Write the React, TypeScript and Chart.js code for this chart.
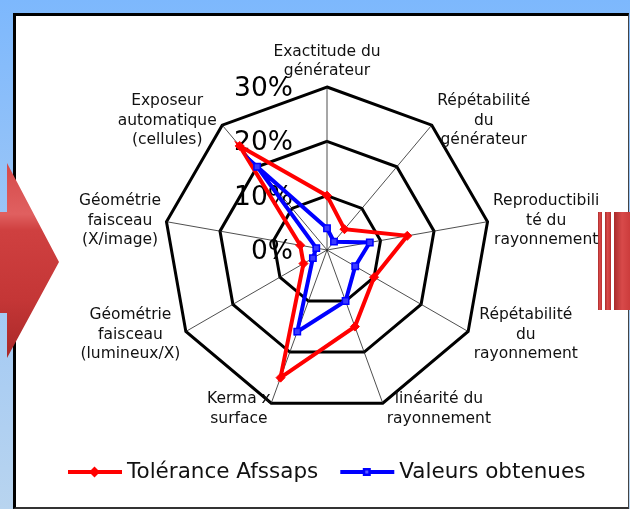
import React, { useEffect, useRef } from "react";
import { Chart, registerables } from "chart.js";

Chart.register(...registerables);

const axisLabels: string[][] = [
  ["Exactitude du", "générateur"],
  ["Répétabilité", "du", "générateur"],
  ["Reproductibili", "té du", "rayonnement"],
  ["Répétabilité", "du", "rayonnement"],
  ["linéarité du", "rayonnement"],
  ["Kerma x", "surface"],
  ["Géométrie", "faisceau", "(lumineux/X)"],
  ["Géométrie", "faisceau", "(X/image)"],
  ["Exposeur", "automatique", "(cellules)"],
];
const toleranceAfssaps = [10, 5, 15, 10, 15, 25, 5, 5, 25];
const valeursObtenues = [4, 2, 8, 6, 10, 16, 3, 2, 20];
const tickValues = [0, 10, 20, 30];
const seriesNames = ["Tolérance Afssaps", "Valeurs obtenues"];
const seriesColors = ["#ff0000", "#0000ff"];

const FONT = '"DejaVu Sans", Verdana, sans-serif';

const excelPlugin = {
  id: "excelLook",
  beforeDatasetsDraw(chart: any) {
    const scale = chart.scales.r;
    const ctx = chart.ctx;
    ctx.save();
    ctx.font = `26.5px ${FONT}`;
    ctx.fillStyle = "#000";
    ctx.textAlign = "right";
    ctx.textBaseline = "middle";
    for (const v of tickValues) {
      const d = scale.getDistanceFromCenterForValue(v);
      ctx.fillText(`${v}%`, scale.xCenter - 34, scale.yCenter - d + 2);
    }
    ctx.restore();
  },
  afterDraw(chart: any) {
    const scale = chart.scales.r;
    const ctx = chart.ctx;
    ctx.save();
    // axis labels
    ctx.font = `15.5px ${FONT}`;
    ctx.fillStyle = "#111";
    ctx.textAlign = "center";
    ctx.textBaseline = "middle";
    const lineH = 19.5;
    axisLabels.forEach((lines, i) => {
      const th = scale.getIndexAngle(i);
      const s = Math.sin(th);
      const c = Math.cos(th);
      const pos = scale.getPointPosition(i, scale.drawingArea);
      const blockW = Math.max(...lines.map((l) => ctx.measureText(l).width));
      const blockH = lines.length * lineH;
      let cx: number;
      let top: number;
      if (Math.abs(s) < 0.01) {
        cx = pos.x;
        top = pos.y - 6.25 - blockH;
      } else {
        const cy = pos.y - 6 * c;
        top = cy - blockH / 2;
        let off = 5.5;
        if (Math.abs(c) > 0.9) off = s > 0 ? 4 : 0.5;
        cx = s > 0 ? pos.x + off + blockW / 2 : pos.x - off - blockW / 2;
      }
      lines.forEach((l, j) => {
        ctx.fillText(l, cx, top + lineH * (j + 0.5));
      });
    });

    // legend
    const ly = 472;
    let x = 68;
    ctx.font = `21.5px ${FONT}`;
    ctx.textAlign = "left";
    chart.data.datasets.forEach((ds: any) => {
      ctx.strokeStyle = ds.borderColor;
      ctx.lineWidth = 4;
      ctx.beginPath();
      ctx.moveTo(x, ly);
      ctx.lineTo(x + 54, ly);
      ctx.stroke();
      const mx = x + 26.5;
      ctx.fillStyle = ds.borderColor;
      ctx.beginPath();
      if (ds.pointStyle === "rectRot") {
        ctx.moveTo(mx, ly - 5.5);
        ctx.lineTo(mx + 5.5, ly);
        ctx.lineTo(mx, ly + 5.5);
        ctx.lineTo(mx - 5.5, ly);
        ctx.closePath();
        ctx.fill();
      } else {
        ctx.rect(mx - 4, ly - 4, 8, 8);
        ctx.fill();
        ctx.fillStyle = "#5a5aff";
        ctx.fillRect(mx - 1.5, ly - 1.5, 3, 3);
      }
      ctx.fillStyle = "#111";
      ctx.fillText(ds.label, x + 59, ly);
      x = x + 59 + ctx.measureText(ds.label).width + 22;
    });
    ctx.restore();
  },
};

export default function App() {
  const ref = useRef<HTMLCanvasElement | null>(null);

  useEffect(() => {
    if (!ref.current) return;
    const chart = new Chart(ref.current, {
      type: "radar",
      data: {
        labels: axisLabels.map((l) => l.join(" ")),
        datasets: [
          {
            label: seriesNames[0],
            data: toleranceAfssaps,
            borderColor: seriesColors[0],
            backgroundColor: seriesColors[0],
            borderWidth: 4,
            fill: false,
            pointStyle: "rectRot",
            pointRadius: 4.5,
            pointBorderWidth: 1,
            pointBackgroundColor: seriesColors[0],
            pointBorderColor: seriesColors[0],
            order: 1,
          },
          {
            label: seriesNames[1],
            data: valeursObtenues,
            borderColor: seriesColors[1],
            backgroundColor: seriesColors[1],
            borderWidth: 4,
            fill: false,
            pointStyle: "rect",
            pointRadius: 4.5,
            pointBorderWidth: 1.5,
            pointBackgroundColor: "#3a3aff",
            pointBorderColor: seriesColors[1],
            order: 0,
          },
        ],
      },
      options: {
        responsive: false,
        animation: false,
        events: [],
        layout: { padding: { left: 164, top: 87, right: 140, bottom: 96 } },
        plugins: {
          legend: { display: false },
          tooltip: { enabled: false },
          title: { display: false },
        },
        scales: {
          r: {
            min: 0,
            max: 30,
            ticks: { display: false, stepSize: 10 },
            pointLabels: { display: false },
            grid: { color: "#000", lineWidth: 3, circular: false },
            angleLines: { color: "#222", lineWidth: 0.8 },
          },
        },
      },
      plugins: [excelPlugin],
    });
    return () => chart.destroy();
  }, []);

  return (
    <div
      style={{
        position: "fixed",
        left: 0,
        top: 0,
        width: 630,
        height: 509,
        overflow: "hidden",
        background: "linear-gradient(to bottom, #7db8fd 0%, #9cc6f6 45%, #b8d4ef 100%)",
      }}
    >
      <div
        style={{
          position: "absolute",
          left: 13,
          top: 13,
          width: 616,
          height: 496,
          boxSizing: "border-box",
          background: "#fff",
          borderTop: "3px solid #000",
          borderLeft: "3px solid #000",
          borderRight: "1.5px solid #444",
          borderBottom: "2px solid #333",
        }}
      />
      <canvas
        ref={ref}
        width={630}
        height={509}
        style={{ position: "absolute", left: 0, top: 0, width: 630, height: 509 }}
      />
      <div
        style={{
          position: "absolute",
          left: 0,
          top: 160,
          width: 62,
          height: 200,
          clipPath: "polygon(0px 52px, 7px 52px, 7px 3px, 59px 102px, 7px 198px, 7px 153px, 0px 153px)",
          background: "linear-gradient(to bottom, #d44848 0%, #e06060 27%, #cf4040 35%, #c43636 70%, #a82828 100%)",
        }}
      />
      {[
        [598, 3.5],
        [605, 6],
        [614, 20],
      ].map(([l, w], i) => (
        <div
          key={i}
          style={{
            position: "absolute",
            left: l,
            top: 212,
            width: w,
            height: 98,
            background: "linear-gradient(to right, #a82a2a 0%, #d84a4a 40%, #cc3c3c 80%, #a82a2a 100%)",
          }}
        />
      ))}
    </div>
  );
}
